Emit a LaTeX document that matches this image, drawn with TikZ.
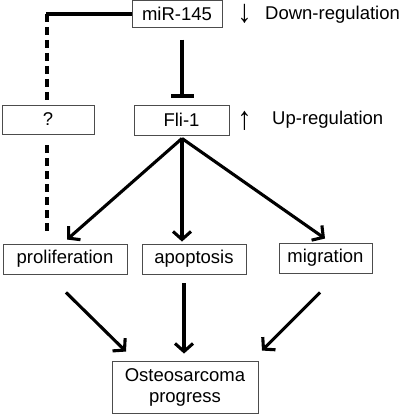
\documentclass[tikz,border=0pt]{standalone}
\usepackage{fontspec}
\setmainfont{Liberation Sans}
\usetikzlibrary{arrows.meta,calc}
\begin{document}
\begin{tikzpicture}[x=1pt,y=-1pt,
  box/.style={draw=black!70,line width=0.9pt,inner sep=0pt,font=\fontsize{18.5}{21}\selectfont,align=center},
  lbl/.style={inner sep=0pt,anchor=west,font=\fontsize{18.5}{21}\selectfont},
  sym/.style={inner sep=0pt,font=\fontsize{18.5}{21}\selectfont},
  conn/.style={line width=3.1pt},
  arr/.style={conn,-{Straight Barb[length=8pt,width=18pt]}},
  inhibit/.style={conn,-{Bar[width=23pt]}},
  dashline/.style={conn,dash pattern=on 8pt off 5pt}]
\useasboundingbox (0,0) rectangle (400,414);
\node[box,minimum width=90pt,minimum height=27pt] (mir) at (177,14) {miR-145};
\node[box,minimum width=92pt,minimum height=29pt] (q) at (48,119.5) {?};
\node[box,minimum width=95pt,minimum height=30pt] (fli) at (181.5,120) {Fli-1};
\node[box,minimum width=124pt,minimum height=30pt] (prol) at (65,259) {proliferation};
\node[box,minimum width=104pt,minimum height=30pt] (apop) at (194,259) {apoptosis};
\node[box,minimum width=93pt,minimum height=30pt] (migr) at (325.5,258) {migration};
\node[box,minimum width=146pt,minimum height=52pt] (osteo) at (185,387) {Osteosarcoma\\progress};
\node[sym] (darr) at (244.5,13.5) {\scalebox{1.55}[1.75]{↓}};
\node[lbl] (down) at (265,15) {Down-regulation};
\node[sym] (uarr) at (244.5,121) {\scalebox{1.55}[1.75]{↑}};
\node[lbl] (up) at (272,120) {Up-regulation};
\coordinate (corner) at (47,14);
\coordinate (dend) at (47,235);
\draw[conn] (mir.west) -- ($(corner)+(-1.5,0)$);
\draw[dashline] (corner) -- ($(q.north)+(-1,-2)$);
\draw[dashline] ($(q.south)+(-1,11)$) -- (dend);
\draw[inhibit] ($(fli.north)+(0.5,-65)$) -- ($(fli.north)+(0.5,-7)$);
\coordinate (fs) at ($(fli.south)+(0.5,3)$);
\draw[arr] (fs) -- ($(prol.north)+(2,-4)$);
\draw[arr] (fs) -- ($(apop.north)+(-12,-2)$);
\draw[arr] (fs) -- ($(migr.north)+(-0.5,-4)$);
\draw[arr] ($(prol.south)+(1,18)$) -- ($(osteo.north)+(-59,-9)$);
\draw[arr] ($(apop.south)+(-10,9)$) -- ($(osteo.north)+(-1,-7)$);
\draw[arr] ($(migr.south)+(-5.5,19)$) -- ($(osteo.north)+(77,-10)$);
\end{tikzpicture}
\end{document}
